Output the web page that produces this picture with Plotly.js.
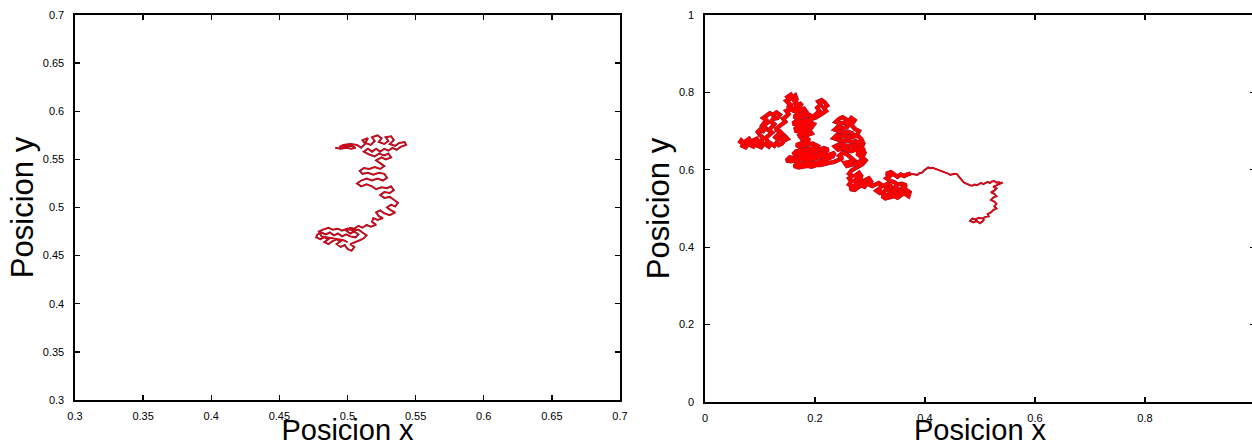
<!DOCTYPE html>
<html>
<head>
<meta charset="utf-8">
<script src="https://cdn.plot.ly/plotly-3.0.1.min.js"></script>
<style>
html,body{margin:0;padding:0;background:#fff;overflow:hidden;width:1252px;height:446px;}
#chart{width:1260px;height:446px;}
</style>
</head>
<body>
<div id="chart"></div>
<script>
// ---- Data ----
// Left panel trajectory [x, y]
const leftPath = [
 [0.491,0.562],[0.495,0.561],[0.499,0.562],[0.503,0.561],[0.506,0.562],[0.503,0.564],[0.498,0.564],[0.494,0.563],
 [0.497,0.565],[0.502,0.566],[0.507,0.565],[0.510,0.562],
 [0.513,0.566],[0.511,0.570],[0.515,0.572],[0.513,0.567],[0.517,0.565],[0.520,0.569],[0.518,0.573],[0.522,0.575],
 [0.525,0.572],[0.523,0.568],[0.527,0.566],[0.530,0.569],[0.528,0.573],[0.532,0.574],[0.534,0.570],[0.531,0.566],
 [0.535,0.564],[0.538,0.567],[0.542,0.568],[0.543,0.565],[0.539,0.563],[0.536,0.560],[0.533,0.562],[0.530,0.559],
 [0.527,0.561],[0.524,0.558],[0.521,0.561],[0.518,0.558],[0.515,0.561],[0.512,0.558],[0.516,0.555],[0.520,0.553],
 [0.523,0.556],[0.527,0.554],[0.530,0.556],[0.532,0.552],[0.528,0.550],[0.525,0.552],[0.521,0.549],[0.524,0.546],
 [0.527,0.543],[0.524,0.540],[0.520,0.542],[0.516,0.540],[0.512,0.541],[0.509,0.538],[0.511,0.535],[0.515,0.536],
 [0.519,0.534],[0.523,0.536],[0.527,0.535],[0.529,0.531],[0.526,0.528],[0.522,0.530],[0.518,0.528],[0.514,0.530],
 [0.510,0.528],[0.507,0.525],[0.510,0.522],[0.514,0.524],[0.518,0.522],[0.521,0.519],[0.525,0.521],[0.529,0.520],
 [0.532,0.522],[0.534,0.518],[0.531,0.515],[0.527,0.516],[0.524,0.513],[0.527,0.510],[0.531,0.511],[0.534,0.508],
 [0.537,0.505],[0.535,0.501],[0.532,0.503],[0.529,0.500],[0.532,0.497],[0.535,0.495],[0.531,0.492],[0.527,0.494],
 [0.524,0.497],[0.521,0.495],[0.523,0.491],[0.526,0.489],[0.522,0.487],[0.519,0.489],[0.518,0.485],[0.521,0.482],
 [0.517,0.480],[0.514,0.482],[0.511,0.479],[0.508,0.481],[0.505,0.478],[0.502,0.479],[0.499,0.476],
 [0.502,0.473],[0.505,0.475],[0.508,0.472],[0.506,0.469],[0.502,0.470],[0.499,0.472],[0.496,0.470],[0.493,0.473],
 [0.490,0.471],[0.487,0.474],[0.484,0.472],[0.481,0.474],[0.478,0.472],[0.477,0.469],[0.480,0.467],[0.483,0.469],
 [0.486,0.467],[0.483,0.464],[0.486,0.462],[0.489,0.465],[0.492,0.467],[0.495,0.465],[0.492,0.462],[0.495,0.459],
 [0.498,0.461],[0.500,0.457],[0.503,0.455],[0.505,0.459],[0.502,0.462],[0.506,0.464],[0.509,0.466],[0.512,0.468],
 [0.514,0.471],[0.511,0.474],[0.508,0.477],[0.504,0.476],[0.500,0.478],[0.496,0.476],[0.493,0.478],[0.489,0.477],
 [0.486,0.479],[0.482,0.477],[0.479,0.475],[0.481,0.470],[0.485,0.469],[0.489,0.468],[0.497,0.466],[0.500,0.464]
];

// Right panel trajectory, dense (clustered) part [x, y]
const rightDense = [
 [0.062,0.668],[0.066,0.676],[0.070,0.670],[0.068,0.662],[0.074,0.658],[0.078,0.666],[0.074,0.674],[0.080,0.680],
 [0.084,0.672],[0.082,0.664],[0.088,0.660],[0.092,0.668],[0.088,0.676],[0.094,0.680],[0.098,0.672],[0.096,0.662],
 [0.102,0.658],[0.106,0.666],[0.102,0.674],[0.106,0.682],[0.100,0.690],[0.096,0.698],[0.100,0.704],[0.106,0.700],
 [0.110,0.708],[0.104,0.714],[0.108,0.722],[0.114,0.718],[0.112,0.728],[0.106,0.734],[0.112,0.740],[0.118,0.746],
 [0.124,0.742],[0.130,0.748],[0.136,0.742],[0.132,0.734],[0.124,0.732],[0.120,0.724],[0.126,0.718],[0.120,0.710],
 [0.116,0.702],[0.122,0.696],[0.116,0.688],[0.110,0.682],[0.114,0.674],[0.110,0.666],[0.116,0.660],[0.120,0.668],
 [0.126,0.662],[0.130,0.670],[0.134,0.664],[0.140,0.668],[0.144,0.676],[0.150,0.680],[0.146,0.686],[0.140,0.682],
 [0.134,0.678],[0.128,0.684],[0.132,0.690],[0.140,0.694],[0.136,0.700],[0.128,0.704],[0.134,0.712],[0.140,0.718],
 [0.146,0.724],[0.142,0.732],[0.148,0.738],
 [0.152,0.744],[0.148,0.752],[0.156,0.756],[0.150,0.762],[0.158,0.766],[0.152,0.772],[0.148,0.778],[0.154,0.782],
 [0.150,0.788],[0.156,0.794],[0.160,0.788],[0.164,0.792],[0.166,0.784],[0.160,0.780],[0.168,0.776],[0.162,0.770],
 [0.170,0.768],[0.176,0.772],[0.172,0.762],[0.164,0.760],[0.158,0.754],[0.166,0.750],[0.174,0.754],[0.180,0.758],
 [0.184,0.750],[0.178,0.744],[0.170,0.742],[0.162,0.738],[0.168,0.732],[0.176,0.736],[0.184,0.738],[0.190,0.742],
 [0.196,0.736],[0.202,0.744],[0.208,0.752],[0.204,0.760],[0.210,0.768],[0.206,0.776],[0.212,0.780],[0.218,0.774],
 [0.222,0.766],[0.216,0.760],[0.220,0.752],[0.214,0.746],[0.208,0.740],[0.200,0.734],
 [0.190,0.730],[0.182,0.728],[0.174,0.724],[0.166,0.726],[0.160,0.720],[0.168,0.716],[0.176,0.718],[0.184,0.720],
 [0.192,0.722],[0.198,0.718],[0.194,0.710],[0.186,0.712],[0.178,0.708],[0.170,0.706],[0.164,0.710],[0.166,0.700],
 [0.174,0.698],[0.182,0.700],[0.190,0.702],[0.194,0.694],[0.186,0.690],[0.178,0.692],[0.172,0.688],[0.176,0.680],
 [0.184,0.682],[0.190,0.676],
 [0.182,0.672],[0.174,0.668],[0.166,0.664],[0.172,0.660],[0.180,0.662],[0.188,0.664],[0.196,0.668],[0.204,0.662],
 [0.198,0.656],[0.190,0.654],[0.182,0.652],[0.174,0.650],[0.166,0.648],[0.160,0.640],[0.168,0.642],[0.176,0.644],
 [0.184,0.642],[0.192,0.646],[0.200,0.648],[0.208,0.652],[0.216,0.656],[0.224,0.652],[0.218,0.646],[0.210,0.642],
 [0.202,0.638],[0.194,0.636],[0.186,0.634],[0.178,0.636],[0.170,0.632],[0.162,0.630],[0.154,0.632],[0.148,0.624],
 [0.156,0.622],[0.164,0.624],[0.172,0.626],[0.180,0.628],[0.188,0.626],[0.196,0.628],[0.204,0.630],[0.212,0.634],
 [0.220,0.636],[0.228,0.640],[0.236,0.644],[0.232,0.634],[0.224,0.628],[0.216,0.624],[0.208,0.620],[0.200,0.618],
 [0.192,0.616],[0.184,0.618],[0.176,0.614],[0.168,0.616],[0.162,0.610],[0.170,0.606],[0.178,0.608],[0.186,0.610],
 [0.194,0.608],[0.202,0.612],[0.210,0.612],[0.218,0.616],[0.226,0.618],[0.234,0.620],[0.242,0.626],[0.250,0.630],
 [0.244,0.636],[0.250,0.644],[0.258,0.640],[0.264,0.632],[0.270,0.626],[0.262,0.620],[0.254,0.618],[0.258,0.610],
 [0.266,0.612],[0.274,0.616],[0.280,0.620],[0.286,0.628],[0.282,0.636],[0.276,0.642],[0.284,0.646],[0.290,0.652],
 [0.282,0.656],[0.274,0.652],[0.266,0.648],[0.258,0.652],[0.250,0.656],[0.242,0.652],[0.236,0.660],[0.244,0.666],
 [0.252,0.664],[0.260,0.662],[0.268,0.660],[0.276,0.664],[0.282,0.670],[0.274,0.674],[0.266,0.672],[0.258,0.676],
 [0.250,0.674],[0.242,0.678],[0.234,0.682],[0.240,0.690],[0.248,0.686],[0.256,0.688],[0.264,0.684],[0.272,0.686],
 [0.268,0.694],[0.260,0.698],[0.252,0.696],[0.244,0.700],[0.236,0.704],[0.242,0.712],[0.250,0.708],[0.258,0.710],
 [0.262,0.718],[0.254,0.722],[0.246,0.720],[0.238,0.724],[0.244,0.732],[0.250,0.736],[0.256,0.730],[0.262,0.726],
 [0.266,0.734],[0.272,0.728],[0.266,0.716],[0.272,0.706],[0.280,0.700],[0.276,0.690],[0.284,0.680],[0.288,0.668],
 [0.284,0.656],[0.290,0.644],[0.286,0.632],[0.292,0.624],[0.286,0.614],[0.278,0.608],[0.272,0.602],
 [0.266,0.598],[0.262,0.590],[0.268,0.584],[0.262,0.578],[0.266,0.570],[0.262,0.562],[0.268,0.556],[0.264,0.550],
 [0.272,0.548],[0.278,0.554],[0.272,0.560],[0.278,0.566],[0.272,0.572],[0.278,0.578],[0.274,0.586],[0.280,0.592],
 [0.284,0.584],[0.282,0.574],[0.288,0.568],[0.284,0.560],[0.290,0.556],[0.294,0.564],[0.292,0.574],[0.298,0.578],
 [0.302,0.570],[0.298,0.562],[0.304,0.558],
 [0.310,0.562],[0.316,0.566],[0.322,0.560],[0.318,0.552],[0.312,0.546],[0.318,0.540],[0.326,0.544],[0.330,0.552],
 [0.326,0.560],[0.332,0.564],[0.338,0.558],[0.334,0.548],[0.338,0.538],[0.330,0.534],[0.322,0.532],[0.328,0.526],
 [0.336,0.528],[0.344,0.532],[0.350,0.528],[0.356,0.534],[0.348,0.540],[0.342,0.546],[0.346,0.554],[0.352,0.548],
 [0.358,0.542],[0.364,0.536],[0.370,0.532],[0.372,0.542],[0.366,0.548],[0.360,0.554],[0.366,0.560],[0.358,0.564],
 [0.350,0.562],[0.344,0.568],[0.336,0.572],[0.330,0.578],[0.336,0.584],[0.330,0.590],[0.338,0.594],[0.344,0.588],
 [0.350,0.582],[0.356,0.588],[0.362,0.584],[0.368,0.588],[0.374,0.590]
];

// Right panel trajectory, sparse (wandering) part [x, y]
const rightSparse = [
 [0.374,0.590],[0.380,0.588],[0.386,0.587],[0.390,0.591],[0.395,0.593],[0.398,0.598],[0.402,0.601],[0.406,0.606],
 [0.410,0.604],[0.414,0.605],[0.418,0.603],[0.422,0.601],[0.426,0.599],[0.430,0.596],[0.434,0.594],[0.438,0.591],
 [0.442,0.590],[0.446,0.587],[0.450,0.588],[0.454,0.590],[0.458,0.589],[0.461,0.584],[0.463,0.578],[0.466,0.573],
 [0.470,0.568],[0.474,0.565],[0.478,0.562],[0.482,0.560],[0.486,0.559],[0.490,0.562],[0.494,0.560],[0.498,0.563],
 [0.502,0.566],[0.506,0.563],[0.510,0.567],[0.514,0.569],[0.518,0.566],[0.522,0.570],[0.526,0.571],[0.530,0.567],
 [0.534,0.568],[0.538,0.566],[0.541,0.567],
 [0.534,0.563],[0.528,0.560],[0.524,0.556],[0.530,0.552],[0.526,0.546],[0.520,0.542],[0.526,0.538],[0.530,0.532],
 [0.524,0.528],[0.520,0.522],[0.526,0.518],[0.530,0.512],[0.526,0.506],[0.530,0.500],[0.524,0.496],[0.520,0.490],
 [0.514,0.486],[0.516,0.480],[0.510,0.478],[0.504,0.474],[0.498,0.476],[0.492,0.472],[0.486,0.474],[0.482,0.468],
 [0.488,0.464],[0.494,0.468],[0.500,0.462],[0.504,0.466],[0.508,0.472]
];

// Tick values / labels
const leftTicks = [0.3,0.35,0.4,0.45,0.5,0.55,0.6,0.65,0.7];
const leftTickText = ["0.3","0.35","0.4","0.45","0.5","0.55","0.6","0.65","0.7"];
const rightXTicks = [0,0.2,0.4,0.6,0.8];
const rightXTickText = ["0","0.2","0.4","0.6","0.8"];
const rightYTicks = [0,0.2,0.4,0.6,0.8,1];
const rightYTickText = ["0","0.2","0.4","0.6","0.8","1"];
const xTitle = "Posicion x";
const yTitle = "Posicion y";

// ---- Build ----
const W = 1260, H = 446;
const MT = 15, MB = 44;
const PH = H - MT - MB; // plot-area height in px
const FONT = "Liberation Sans, Arial, sans-serif";
const outline = "#7a1c3c";
const red = "#ff0000";

function traces(path, xa, ya, wDark, wRed) {
  const xs = path.map(p => p[0]), ys = path.map(p => p[1]);
  return [
    {x: xs, y: ys, xaxis: xa, yaxis: ya, type: "scatter", mode: "lines",
     line: {color: outline, width: wDark}, hoverinfo: "skip"},
    {x: xs, y: ys, xaxis: xa, yaxis: ya, type: "scatter", mode: "lines",
     line: {color: red, width: wRed}, hoverinfo: "skip"}
  ];
}

const data = [].concat(
  traces(leftPath, "x", "y", 2.0, 1.0),
  traces(rightSparse, "x2", "y2", 2.0, 1.1),
  traces(rightDense, "x2", "y2", 4.4, 3.6)
);

function axisBase(ticks, text) {
  return {
    tickmode: "array", tickvals: ticks, ticktext: text,
    ticks: "inside", ticklen: 5, tickwidth: 1.3, tickcolor: "#000",
    showline: true, linecolor: "#000", linewidth: 1.6, mirror: "ticks",
    showgrid: false, zeroline: false,
    tickfont: {family: FONT, size: 11, color: "#000"},
    automargin: false, fixedrange: true
  };
}

const layout = {
  width: W, height: H,
  margin: {l: 0, r: 0, t: MT, b: MB},
  paper_bgcolor: "#fff", plot_bgcolor: "#fff",
  showlegend: false,
  font: {family: FONT, color: "#000"},
  xaxis: Object.assign(axisBase(leftTicks, leftTickText), {
    domain: [75 / W, 620 / W], range: [0.3, 0.7], anchor: "y",
    ticklabelstandoff: 5,
    title: {text: xTitle, font: {family: FONT, size: 29, color: "#000"}, standoff: 3}
  }),
  yaxis: Object.assign(axisBase(leftTicks, leftTickText), {
    domain: [2 / PH, 1], range: [0.3, 0.7], anchor: "x",
    ticklabelstandoff: 7,
    title: {text: yTitle, font: {family: FONT, size: 31, color: "#000"}, standoff: 0}
  }),
  xaxis2: Object.assign(axisBase(rightXTicks, rightXTickText), {
    domain: [705 / W, 1255 / W], range: [0, 1], anchor: "y2",
    ticklabelstandoff: 5,
    title: {text: xTitle, font: {family: FONT, size: 29, color: "#000"}, standoff: 3}
  }),
  yaxis2: Object.assign(axisBase(rightYTicks, rightYTickText), {
    domain: [0, 1], range: [0, 1], anchor: "x2",
    ticklabelstandoff: 7,
    title: {text: yTitle, font: {family: FONT, size: 31, color: "#000"}, standoff: 0}
  })
};

Plotly.newPlot("chart", data, layout, {staticPlot: true, displayModeBar: false});
</script>
</body>
</html>
